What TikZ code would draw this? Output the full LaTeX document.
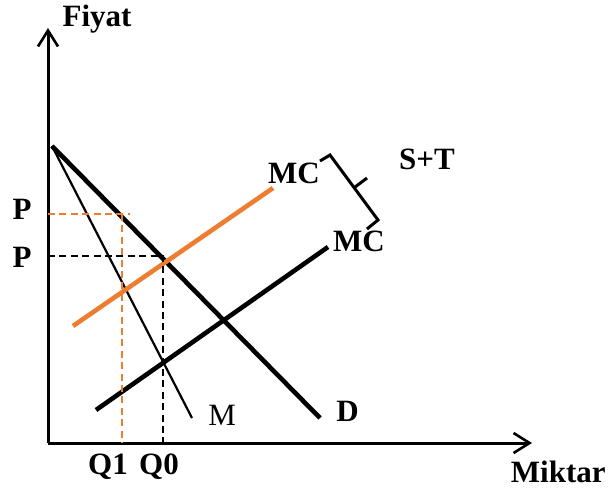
\documentclass[tikz,border=0pt]{standalone}
\usepackage{fontspec}
\setmainfont{Liberation Serif}
\usetikzlibrary{arrows.meta}
\definecolor{mcorange}{HTML}{ED7D31}

\begin{document}
\begin{tikzpicture}[
  x=0.5pt, y=-0.5pt,
  axis/.style={line width=1.5pt, -{Straight Barb[length=8pt, width=10pt, line width=1.3pt]}},
  curve/.style={line width=2.3pt},
  thincurve/.style={line width=1.1pt},
  guide/.style={line width=0.7pt, dash pattern=on 3.5pt off 2.2pt},
  lbl/.style={font=\fontsize{15.5}{19}\selectfont\bfseries, inner sep=0pt},
]
\useasboundingbox (0,0) rectangle (611,493);

% Axes
\coordinate (O) at (48,443);
\coordinate (ytop) at (48,28);
\coordinate (xend) at (532,443);
\draw[axis] (O) -- (ytop);
\draw[axis] (O) -- (xend);
\node[lbl] (fiyat) at (97,19) {Fiyat};
\node[lbl, anchor=east] (miktar) at (606,472) {Miktar};

% Demand and marginal revenue
\coordinate (top) at (52,146);
\coordinate (dend) at (320,418);
\coordinate (mend) at (192,418);
\draw[curve] (top) -- (dend);
\draw[thincurve] (top) -- (mend);
\node[lbl, anchor=west] (dlbl) at (336,411) {D};
\node[lbl, anchor=west, font=\fontsize{15.5}{19}\selectfont] (mlbl) at (208,415) {M};

% Marginal cost lines
\coordinate (mcst) at (73,326);
\coordinate (mcsend) at (273,188);
\coordinate (mcs) at (96,410);
\coordinate (mcend) at (328,247);
\draw[curve, mcorange] (mcst) -- (mcsend);
\draw[curve] (mcs) -- (mcend);
\node[lbl] (mctop) at (294,173) {MC};
\node[lbl] (mcbot) at (359,241) {MC};

% Brace
\coordinate (b1) at (320,161);
\coordinate (b2) at (330,155);
\coordinate (b3) at (378,220);
\coordinate (b4) at (367,229);
\coordinate (bm) at (355,187);
\coordinate (bt) at (367,178);
\draw[line width=1.5pt] (b1) -- (b2) -- (b3) -- (b4);
\draw[line width=1.5pt] (bm) -- (bt);
\node[lbl] (st) at (427,159) {S+T};

% Guides
\coordinate (p1) at (48,214);
\coordinate (p1r) at (130,214);
\coordinate (q1top) at (122,214);
\coordinate (q1) at (122,443);
\coordinate (p0) at (48,256);
\coordinate (p0r) at (163,256);
\coordinate (q0) at (163,443);
\draw[guide, mcorange] (p1) -- (p1r);
\draw[guide, mcorange] (q1top) -- (q1);
\draw[guide] (p0) -- (p0r) -- (q0);
\node[lbl] (p1lbl) at (22,209) {P};
\node[lbl] (p0lbl) at (22,257) {P};
\node[lbl] (q1lbl) at (108,467) {Q1};
\node[lbl] (q0lbl) at (159,467) {Q0};
\end{tikzpicture}
\end{document}
